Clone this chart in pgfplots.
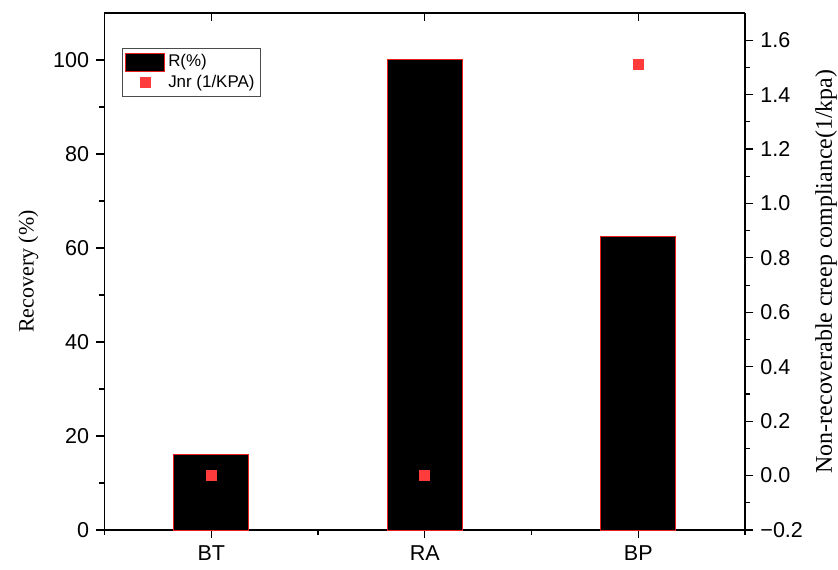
\documentclass[border=0pt]{standalone}
\usepackage{pgfplots}
\pgfplotsset{compat=1.18}
\usepackage{fontspec}
\setmainfont{Liberation Serif}
\newfontfamily\arial{Liberation Sans}
\definecolor{mred}{RGB}{255,59,59}
\definecolor{bred}{RGB}{235,30,30}
\begin{document}
\begin{tikzpicture}
\useasboundingbox (-52.25bp,-20bp) rectangle (366.75bp,265bp);
\pgfplotsset{
  every axis/.append style={
    scale only axis,
    width=320.25bp, height=258.5bp,
    xmin=-0.5, xmax=2.5,
    /pgf/number format/assume math mode=true,
    tick label style={font=\arial\fontsize{10.8}{12}\selectfont, black},
    major tick length=4.2bp, minor tick length=2.5bp,
    tick style={black, line width=0.6pt},
    axis line style={black, line width=0.6pt},
  }
}
\begin{axis}[
  axis x line*=bottom, axis y line*=left,
  ymin=0, ymax=110,
  ytick={0,20,40,60,80,100},
  minor ytick={10,30,50,70,90},
  xtick={0,1,2}, xticklabels={BT,RA,BP},
  minor xtick={-0.5,0.5,1.5,2.5},
  tick align=outside,
  ylabel={Recovery (\%)},
  ylabel style={at={(axis description cs:-0.1187,0.5)}, anchor=center, font=\fontsize{11}{13}\selectfont},
  legend style={at={(rel axis cs:0.027,0.932)}, anchor=north west, draw=black!70, line width=0.5pt,
    font=\arial\fontsize{8.5}{9.5}\selectfont, inner xsep=1.5pt, inner ysep=1.8pt, row sep=0.3bp,
    nodes={inner ysep=1.2pt, inner xsep=1.5pt},
    legend cell align=left},
  legend image code/.code={\draw[fill=black, draw=bred, line width=0.5pt] (0cm,-4.6bp) rectangle (19.5bp,4.6bp);},
]
\addplot[ybar, bar width=37.5bp, fill=black, draw=bred, line width=0.5pt, bar shift=0pt] coordinates {
  (0,16.0) (1,100.0) (2,62.4)
};
\addlegendentry{R(\%)}
\addlegendimage{only marks, mark=square*, mark size=2.5bp, mark options={fill=mred, draw=mred},
  legend image code/.code={\draw[fill=mred, draw=mred] (9.75bp-2.5bp,-2.5bp) rectangle (9.75bp+2.5bp,2.5bp);}}
\addlegendentry{Jnr (1/KPA)}
\end{axis}
\begin{axis}[
  axis x line*=top, axis y line*=right,
  ymin=-0.2, ymax=1.7,
  ytick={-0.2,0,0.2,0.4,0.6,0.8,1.0,1.2,1.4,1.6},
  yticklabels={−0.2,0.0,0.2,0.4,0.6,0.8,1.0,1.2,1.4,1.6},
  minor ytick={-0.1,0.1,0.3,0.5,0.7,0.9,1.1,1.3,1.5},
  xtick={0,1,2}, xticklabels={},
  x tick style={black, line width=0.6pt, /pgfplots/tick align=inside},
  y tick style={black, line width=0.6pt},
  tick align=outside,
  ylabel={Non-recoverable creep compliance(1/kpa)},
  ylabel style={at={(axis description cs:1.1265,0.5)}, anchor=center, font=\fontsize{12}{14}\selectfont},
]
\addplot[only marks, mark=square*, mark size=2.5bp, mark options={fill=mred, draw=mred}] coordinates {
  (0,0.0) (1,0.0) (2,1.51)
};
\end{axis}
\end{tikzpicture}
\end{document}
